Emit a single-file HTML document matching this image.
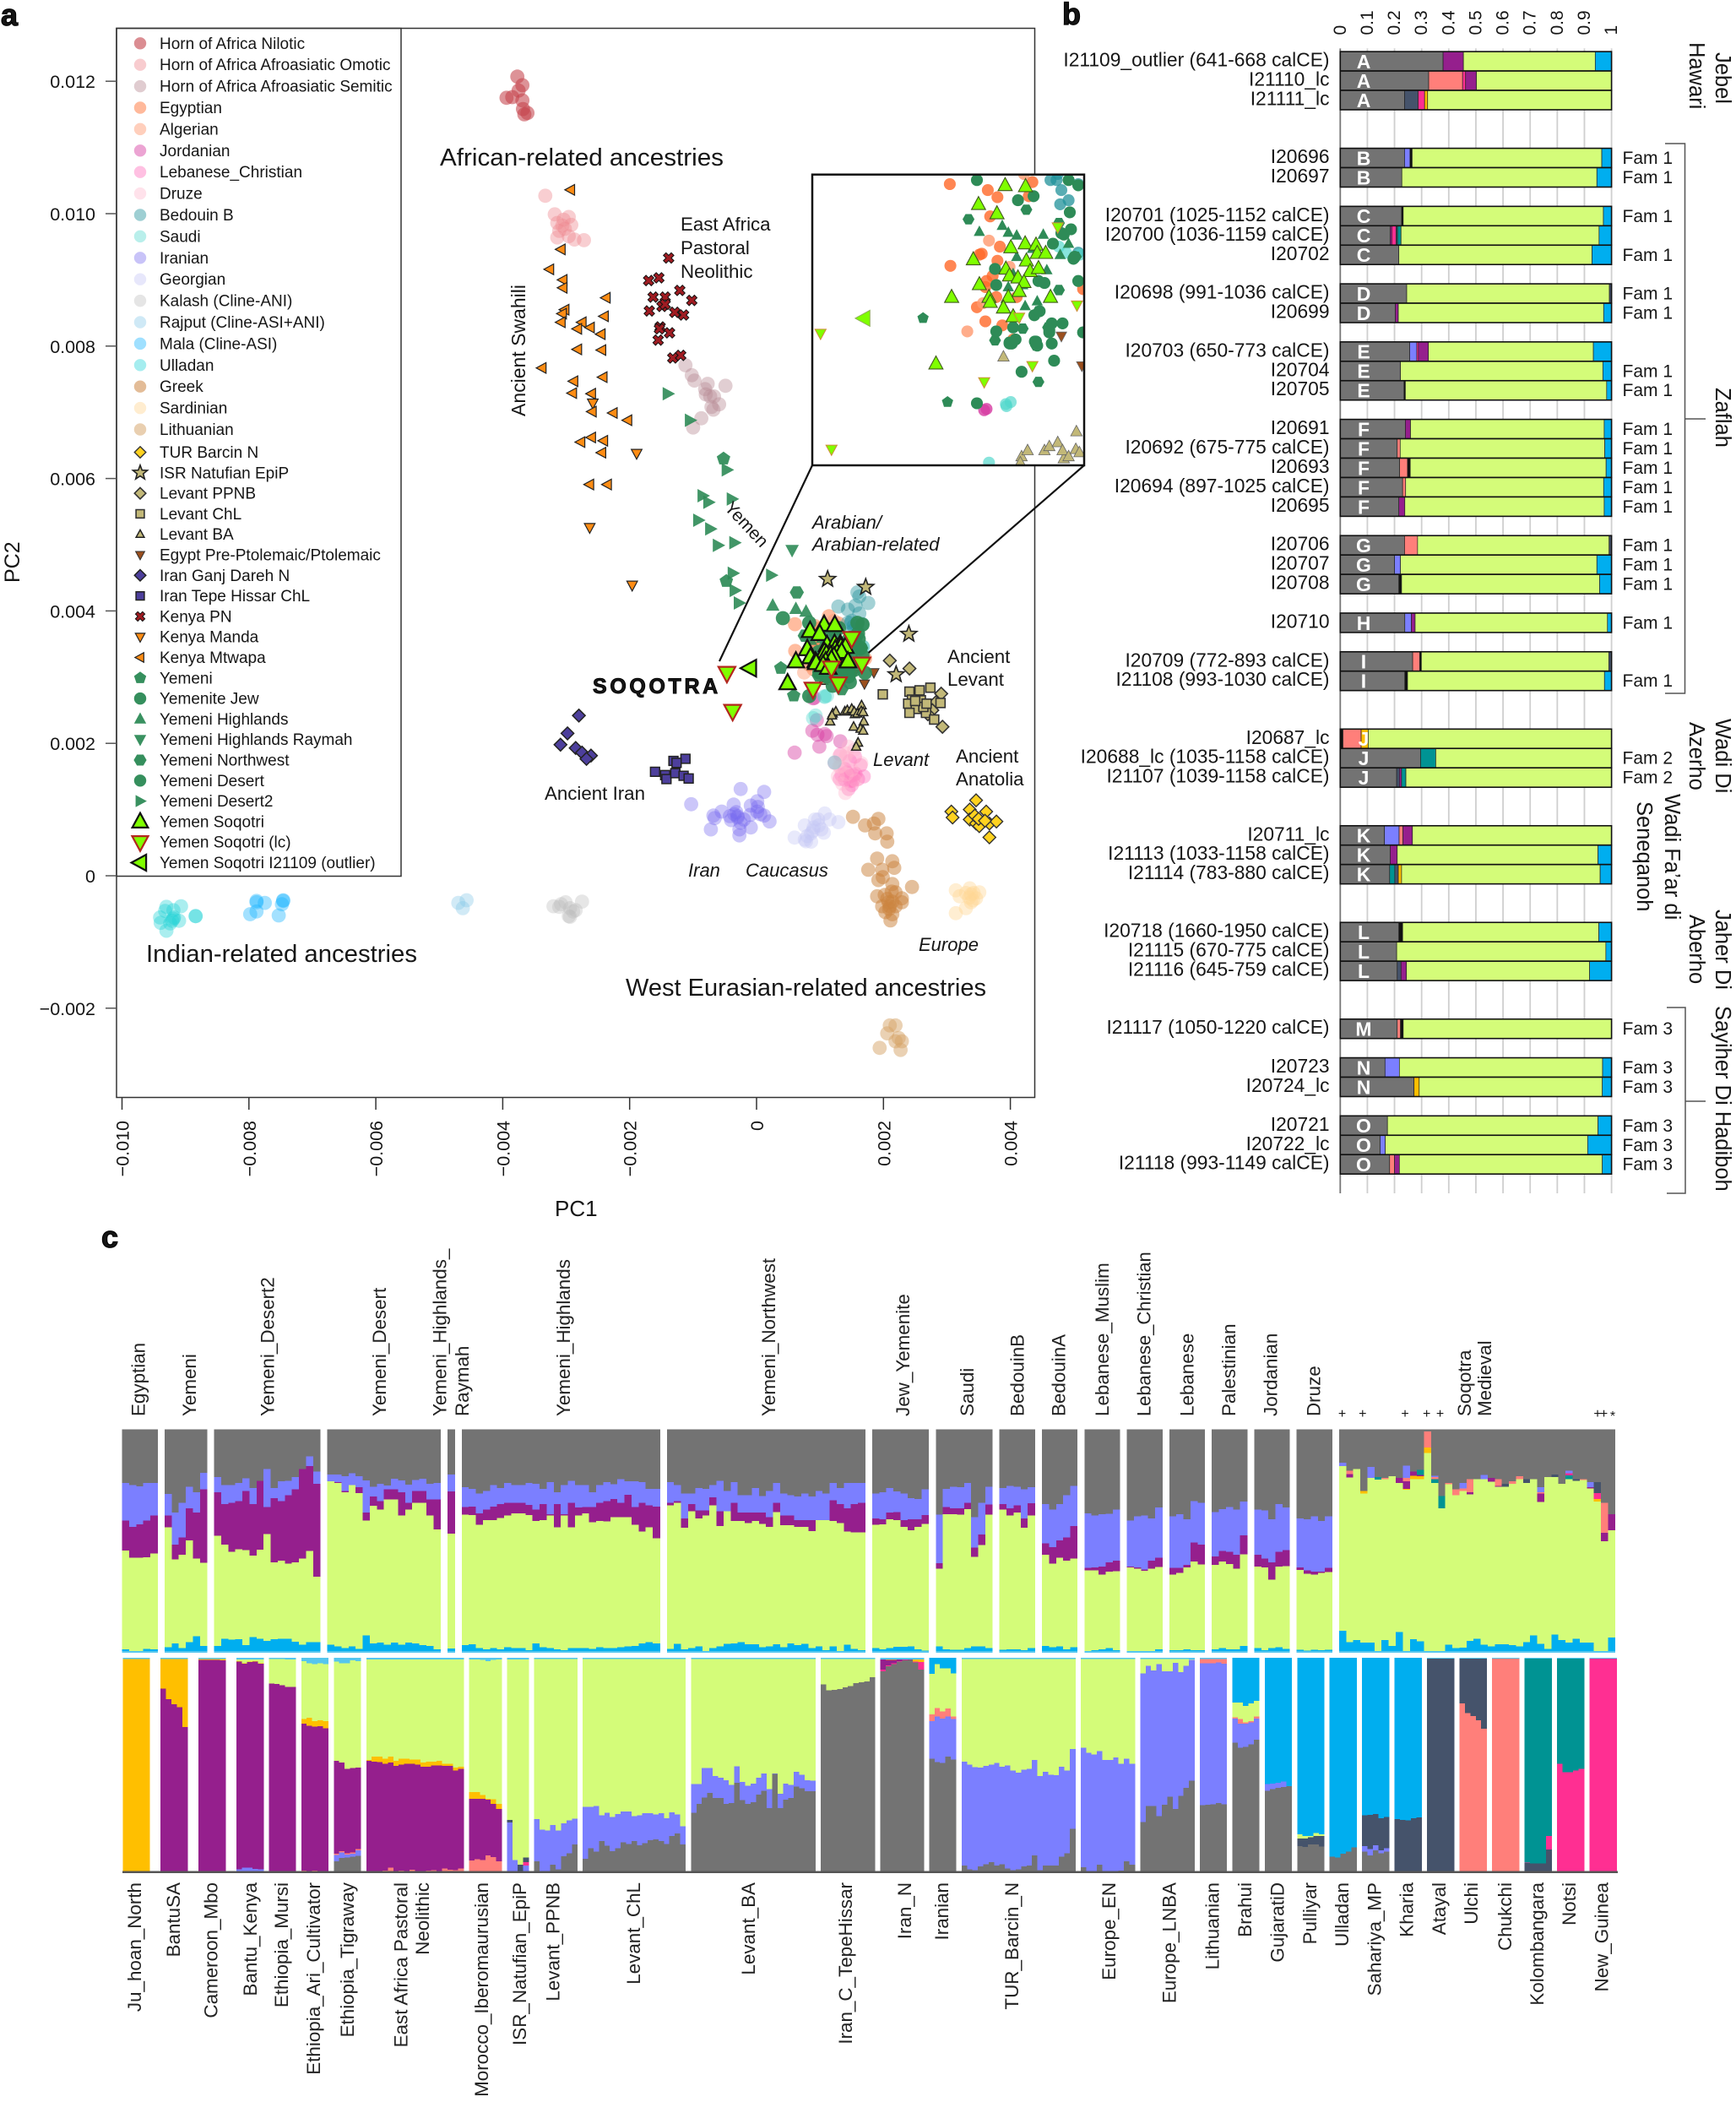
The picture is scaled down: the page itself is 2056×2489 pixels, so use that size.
<!DOCTYPE html>
<html lang="en">
<head>
<meta charset="utf-8">
<title>Soqotra ancestry figure</title>
<style>
html,body{margin:0;padding:0;background:#fff}
svg{display:block}
text{font-family:"Liberation Sans",sans-serif;fill:#161616}
.lab-a{font-size:22.3px}
.ital{font-size:22px;font-style:italic}
.big{font-size:29px}
.site{font-size:25.5px}
.clab{font-size:22.4px;fill:#222}
.tick{font-size:21.5px}
.panel{font-size:36px;font-weight:700;stroke:#000;stroke-width:1.2px}
</style>
</head>
<body>
<svg id="fig" xmlns="http://www.w3.org/2000/svg" width="2056" height="2489" viewBox="0 0 2056 2489">
<defs><clipPath id="inset-clip"><rect x="962" y="206.7" width="322" height="344.3"/></clipPath></defs>
<rect x="0" y="0" width="2056" height="2489" fill="#fff"/>

<text class="panel" x="1" y="30">a</text>
<text class="panel" x="1258" y="29">b</text>
<text class="panel" x="120" y="1477">c</text>

<g id="panel-a">
  <rect x="138" y="33.5" width="1087.5" height="1266" fill="none" stroke="#333" stroke-width="1.5"/>
  <rect x="138" y="33.5" width="337" height="1004" fill="none" stroke="#333" stroke-width="1.5"/>
  <g id="a-axes"></g>
  <g id="a-legend"></g>
  <g id="a-points"></g>
  <rect x="962" y="206.7" width="322" height="344.3" fill="#fff"/>
  <g id="a-inset" clip-path="url(#inset-clip)"></g>
  <rect x="962" y="206.7" width="322" height="344.3" fill="none" stroke="#111" stroke-width="2.5"/>
  <line x1="962" y1="551" x2="852" y2="783" stroke="#111" stroke-width="2.2"/>
  <line x1="1284" y1="551" x2="1028.6" y2="773" stroke="#111" stroke-width="2.2"/>

  <text transform="translate(23,690) rotate(-90)" style="font-size:25px">PC2</text>
  <text x="657" y="1440" style="font-size:26px">PC1</text>

  <text class="big" x="521" y="196" textLength="336" lengthAdjust="spacingAndGlyphs">African-related ancestries</text>
  <text class="big" x="173" y="1139" textLength="321" lengthAdjust="spacingAndGlyphs">Indian-related ancestries</text>
  <text class="big" x="741" y="1179" textLength="427" lengthAdjust="spacingAndGlyphs">West Eurasian-related ancestries</text>
  <text class="lab-a" transform="translate(622,493) rotate(-90)" style="font-size:23px">Ancient Swahili</text>
  <text class="lab-a" x="806" y="273">East Africa</text>
  <text class="lab-a" x="806" y="301">Pastoral</text>
  <text class="lab-a" x="806" y="329">Neolithic</text>
  <text class="lab-a" transform="translate(857,602) rotate(47)" style="font-size:21px">Yemen</text>
  <text class="ital" x="962" y="626">Arabian/</text>
  <text class="ital" x="962" y="652">Arabian-related</text>
  <text x="702" y="821" style="font-size:25px;font-weight:700;letter-spacing:3.8px;stroke:#000;stroke-width:.9px" textLength="152">SOQOTRA</text>
  <text class="lab-a" x="1122" y="785">Ancient</text>
  <text class="lab-a" x="1122" y="812">Levant</text>
  <text class="lab-a" x="1132" y="903">Ancient</text>
  <text class="lab-a" x="1132" y="930">Anatolia</text>
  <text class="ital" x="1034" y="907">Levant</text>
  <text class="lab-a" x="645" y="947">Ancient Iran</text>
  <text class="ital" x="815" y="1038">Iran</text>
  <text class="ital" x="883" y="1038">Caucasus</text>
  <text class="ital" x="1088" y="1126">Europe</text>
</g>

<g id="panel-b">
  <g id="b-grid"></g>
  <g id="b-bars"></g>
  <path d="M1972 170H1995.5V821H1972M1995.5 496H2020" fill="none" stroke="#555" stroke-width="1.5"/>
  <path d="M1974 1193H1996V1413H1974M1996 1304H2020" fill="none" stroke="#555" stroke-width="1.5"/>
  <text class="site" transform="translate(2032,62) rotate(90)">Jebel</text>
  <text class="site" transform="translate(2001,50) rotate(90)">Hawari</text>
  <text class="site" transform="translate(2032,459) rotate(90)">Zaflah</text>
  <text class="site" transform="translate(2032,851) rotate(90)">Wadi Di</text>
  <text class="site" transform="translate(2001,855) rotate(90)">Azerho</text>
  <text class="site" transform="translate(1972,940) rotate(90)">Wadi Fa’ar di</text>
  <text class="site" transform="translate(1939,949) rotate(90)">Seneqanoh</text>
  <text class="site" transform="translate(2032,1077) rotate(90)">Jaher Di</text>
  <text class="site" transform="translate(2001,1083) rotate(90)">Aberho</text>
  <text class="site" transform="translate(2032,1191) rotate(90)">Sayiher Di Hadiboh</text>
</g>

<g id="panel-c">
  <g id="c-upper"></g>
  <g id="c-lower"></g>
  <rect x="145" y="2215.5" width="1771" height="2.5" fill="#555"/>

  <g>
  <text class="clab" transform="translate(171.4,1677) rotate(-90)">Egyptian</text>
  <text class="clab" transform="translate(232,1677) rotate(-90)">Yemeni</text>
  <text class="clab" transform="translate(324.5,1677) rotate(-90)">Yemeni_Desert2</text>
  <text class="clab" transform="translate(457,1677) rotate(-90)">Yemeni_Desert</text>
  <text class="clab" transform="translate(528.6,1677) rotate(-90)">Yemeni_Highlands_</text>
  <text class="clab" transform="translate(555,1677) rotate(-90)">Raymah</text>
  <text class="clab" transform="translate(675,1677) rotate(-90)">Yemeni_Highlands</text>
  <text class="clab" transform="translate(918,1677) rotate(-90)">Yemeni_Northwest</text>
  <text class="clab" transform="translate(1077,1677) rotate(-90)">Jew_Yemenite</text>
  <text class="clab" transform="translate(1153,1677) rotate(-90)">Saudi</text>
  <text class="clab" transform="translate(1212.6,1677) rotate(-90)">BedouinB</text>
  <text class="clab" transform="translate(1261.7,1677) rotate(-90)">BedouinA</text>
  <text class="clab" transform="translate(1312.8,1677) rotate(-90)">Lebanese_Muslim</text>
  <text class="clab" transform="translate(1362.5,1677) rotate(-90)" style="font-size:21.9px">Lebanese_Christian</text>
  <text class="clab" transform="translate(1413.5,1677) rotate(-90)">Lebanese</text>
  <text class="clab" transform="translate(1463,1677) rotate(-90)">Palestinian</text>
  <text class="clab" transform="translate(1512.4,1677) rotate(-90)">Jordanian</text>
  <text class="clab" transform="translate(1563.4,1677) rotate(-90)">Druze</text>
  <text class="clab" transform="translate(1742,1677) rotate(-90)">Soqotra</text>
  <text class="clab" transform="translate(1766,1677) rotate(-90)">Medieval</text>
  <text x="1589.5" y="1679" text-anchor="middle" style="font-size:16px">+</text>
  <text x="1613.8" y="1679" text-anchor="middle" style="font-size:16px">+</text>
  <text x="1664" y="1679" text-anchor="middle" style="font-size:16px">+</text>
  <text x="1689.7" y="1679" text-anchor="middle" style="font-size:16px">+</text>
  <text x="1705.6" y="1679" text-anchor="middle" style="font-size:16px">+</text>
  <text x="1892" y="1679" text-anchor="middle" style="font-size:16px">+</text>
  <text x="1899.5" y="1679" text-anchor="middle" style="font-size:16px">+</text>
  <text x="1910" y="1682" text-anchor="middle" style="font-size:16px">*</text>
  </g>

  <g>
  <text class="clab" text-anchor="end" transform="translate(167,2229) rotate(-90)">Ju_hoan_North</text>
  <text class="clab" text-anchor="end" transform="translate(212.9,2229) rotate(-90)">BantuSA</text>
  <text class="clab" text-anchor="end" transform="translate(257.5,2229) rotate(-90)">Cameroon_Mbo</text>
  <text class="clab" text-anchor="end" transform="translate(304,2229) rotate(-90)">Bantu_Kenya</text>
  <text class="clab" text-anchor="end" transform="translate(341,2229) rotate(-90)">Ethiopia_Mursi</text>
  <text class="clab" text-anchor="end" transform="translate(379,2229) rotate(-90)">Ethiopia_Ari_Cultivator</text>
  <text class="clab" text-anchor="end" transform="translate(419,2229) rotate(-90)">Ethiopia_Tigraway</text>
  <text class="clab" text-anchor="end" transform="translate(482.7,2229) rotate(-90)">East Africa Pastoral</text>
  <text class="clab" text-anchor="end" transform="translate(508,2229) rotate(-90)">Neolithic</text>
  <text class="clab" text-anchor="end" transform="translate(578,2229) rotate(-90)">Morocco_Iberomaurusian</text>
  <text class="clab" text-anchor="end" transform="translate(623,2229) rotate(-90)">ISR_Natufian_EpiP</text>
  <text class="clab" text-anchor="end" transform="translate(662.5,2229) rotate(-90)">Levant_PPNB</text>
  <text class="clab" text-anchor="end" transform="translate(758,2229) rotate(-90)">Levant_ChL</text>
  <text class="clab" text-anchor="end" transform="translate(894,2229) rotate(-90)">Levant_BA</text>
  <text class="clab" text-anchor="end" transform="translate(1008.8,2229) rotate(-90)">Iran_C_TepeHissar</text>
  <text class="clab" text-anchor="end" transform="translate(1079,2229) rotate(-90)">Iran_N</text>
  <text class="clab" text-anchor="end" transform="translate(1123,2229) rotate(-90)">Iranian</text>
  <text class="clab" text-anchor="end" transform="translate(1206,2229) rotate(-90)">TUR_Barcin_N</text>
  <text class="clab" text-anchor="end" transform="translate(1321,2229) rotate(-90)">Europe_EN</text>
  <text class="clab" text-anchor="end" transform="translate(1392.5,2229) rotate(-90)">Europe_LNBA</text>
  <text class="clab" text-anchor="end" transform="translate(1443.5,2229) rotate(-90)">Lithuanian</text>
  <text class="clab" text-anchor="end" transform="translate(1481.8,2229) rotate(-90)">Brahui</text>
  <text class="clab" text-anchor="end" transform="translate(1520.7,2229) rotate(-90)">GujaratiD</text>
  <text class="clab" text-anchor="end" transform="translate(1559,2229) rotate(-90)">Pulliyar</text>
  <text class="clab" text-anchor="end" transform="translate(1597,2229) rotate(-90)">Ulladan</text>
  <text class="clab" text-anchor="end" transform="translate(1635.5,2229) rotate(-90)">Sahariya_MP</text>
  <text class="clab" text-anchor="end" transform="translate(1673.7,2229) rotate(-90)">Kharia</text>
  <text class="clab" text-anchor="end" transform="translate(1712,2229) rotate(-90)">Atayal</text>
  <text class="clab" text-anchor="end" transform="translate(1750,2229) rotate(-90)">Ulchi</text>
  <text class="clab" text-anchor="end" transform="translate(1790,2229) rotate(-90)">Chukchi</text>
  <text class="clab" text-anchor="end" transform="translate(1828,2229) rotate(-90)">Kolombangara</text>
  <text class="clab" text-anchor="end" transform="translate(1866,2229) rotate(-90)">Notsi</text>
  <text class="clab" text-anchor="end" transform="translate(1904.5,2229) rotate(-90)">New_Guinea</text>
  </g>
</g>
</svg>

<script>
/* ---------- PANEL A DATA: [PC1, PC2] in units of 0.0001 ---------- */
const pcXTicks=[-100,-80,-60,-40,-20,0,20,40];
const pcXLabels=['−0.010','−0.008','−0.006','−0.004','−0.002','0','0.002','0.004'];
const pcYTicks=[120,100,80,60,40,20,0,-20];
const pcYLabels=['0.012','0.010','0.008','0.006','0.004','0.002','0','−0.002'];

const hornNilotic=[[-37.7,120.7],[-36.9,119.4],[-37.5,118.6],[-39.4,117.5],[-38.5,117.6],[-36.9,117.1],[-36.8,115.8],[-36.1,115.2],[-36.6,115]];
const hornOmotic=[[-33.3,102.7],[-31.8,99.9],[-29.6,99.5],[-30.4,99.1],[-29.2,98.3],[-31.4,98.6],[-30.6,98.2],[-31.4,96.4],[-29.6,96.6],[-28.7,96.1],[-27.2,96],[-31.1,97.4],[-30.2,97.7]];
const hornSemitic=[[-11.2,77.1],[-10.2,75.6],[-9.8,74.8],[-7.7,74.3],[-8.1,73.5],[-4.9,74],[-6.7,72.4],[-8,72.7],[-7.3,72.4],[-5.9,71.2],[-7.1,70.8],[-6.8,70.4],[-8.7,69.1],[-10,67.7]];
const egyptian=[[6.05,38],[9.2,37.7],[10,37.35],[9.4,36.4],[10.2,34.9],[8.5,34.5],[8.7,34.55],[10,34.2],[6.1,33.95],[9.6,33.45],[9.1,33.2],[9,32.9],[9.9,32.4],[8.3,31.9],[9,31.2],[10.4,31],[11.6,32.4],[11.3,30.3],[12.9,38.1],[12.6,37.4],[17.1,32.8],[11.4,39.2]];
const algerian=[[9.3,35.2],[8.8,32.1],[11,33.9],[7.5,30.7],[12.2,38.5]];
const jordanian=[[6,18.6],[8.8,21.9],[9.6,21.3],[11.05,21.1],[9.5,23.5],[9.9,19.5],[13.2,20.3],[10.75,21.4],[8.9,26.8],[9.1,26.86]];
const lebaneseChristian=[[13.2,18.3],[14.7,17.35],[12.3,17.05],[13.9,16.1],[13.4,15.2],[15.3,15.2],[16.9,15],[14.8,14.3],[16,14.6],[13.1,14.6],[14.5,13.1],[16.4,16.7],[15.5,18],[14.9,15.1],[15.6,15.4],[14.2,15.6],[14.7,15],[15.2,14.4],[15,13.7],[13.9,14.5]];
const druze=[[14,17.9],[15,16],[13.5,13.9],[15.6,14.4],[14.2,15.3],[13,16.5],[15.4,19],[13,18],[14.5,19.5],[12.8,15],[14,12.5],[16.5,17],[13.2,16.5],[14.2,18.5]];
const bedouinB=[[12.9,40.66],[14.4,40.2],[16.2,42.2],[15.6,40.8],[17.6,41.2],[16.2,39.6],[15,38.5],[14.4,38.2],[15.9,42.8],[14.9,38.2],[15.3,37.7],[16.7,38],[15.9,37.2],[15.2,37],[16.7,34.6]];
const saudi=[[8.9,23.8],[12.3,17.1],[10.75,27],[11.1,27.2],[15.1,34.9],[15.7,34.6],[9.3,24.2],[16.8,34.5],[10.7,27.1]];
const iranian=[[-2.5,13.1],[1.2,12.66],[-10.3,10.8],[-3.6,10.75],[0.1,11.25],[-5.5,9.7],[-6.8,9.1],[0.1,9.7],[-3,8.8],[-2,8.5],[1.2,9.1],[2.05,8.2],[-6.6,8.7],[-0.9,10.6],[-7.2,7],[-2.7,7],[-0.9,7.3],[-2.7,6.1],[-4.2,9],[-3.2,9.6],[-1,9.2],[-3.5,9.3],[-3,9],[-4,8.4],[-2.5,8],[0.2,10.4],[0.6,9.3]];
const georgian=[[6,5.76],[7.6,7.6],[8.6,6.4],[9.7,8.5],[10.75,9.4],[12.9,8.1],[10.2,7],[8.6,5.15],[7.6,5.45],[9,7.3],[11.5,8.5],[8,6],[9.2,8.5],[9.8,7.6],[8.9,6.8],[7.8,5.2],[10.6,6.5]];
const kalash=[[-32,-4.6],[-31.1,-4.7],[-30.1,-4],[-27.5,-3.9],[-29.4,-4.9],[-28.5,-5.2],[-29.6,-6.1],[-29.4,-6.2],[-28.9,-5.4],[-30.8,-4.3]];
const rajput=[[-47,-4.1],[-45.7,-3.7],[-46.3,-4.9]];
const mala=[[-78.8,-3.8],[-78.8,-4],[-77.5,-4.1],[-79.8,-5.8],[-78.8,-5.4],[-75.3,-6],[-74.6,-3.8],[-74.6,-3.7],[-74.8,-4.3]];
const ulladan=[[-93,-4.7],[-90.7,-4.6],[-93.2,-5.3],[-91.9,-5.2],[-94,-6.3],[-91.9,-6.5],[-91,-6.8],[-93.9,-7.1],[-92.4,-7.2],[-93,-8.3],[-88.4,-6.1],[-88.4,-6.1],[-91.8,-6.3],[-92.1,-6.8]];
const greek=[[15.2,8.9],[19.2,8.6],[17.1,7.6],[18.5,7.9],[18.7,6.4],[20.5,6.4],[20.6,5.15],[19,2.6],[17.6,0.9],[21.4,2.2],[21.7,1.2],[19.8,0.9],[19.2,-0.65],[21.4,-1.25],[24.5,-1.7],[19,-3.1],[21.9,-2.5],[22.9,-3.4],[19.8,-4.6],[21.9,-4.6],[22.9,-4],[21.4,-5.8],[20.3,-5.5],[21.1,-6.75],[20.8,-4],[20.6,-3.5],[21.4,-3.9],[21,-4.6],[20.2,-2.9],[21.3,-2.4],[19.9,-0.2],[20.9,-5]];
const sardinian=[[31.4,-2.2],[33.6,-1.9],[35.1,-2.5],[32,-3.1],[34.1,-3.7],[33,-4.9],[31.4,-5.65],[34.6,-3.4],[33.8,-2.8],[33.5,-3.3],[34.2,-2.6],[33,-2.6],[33.8,-4]];
const lithuanian=[[21,-22.6],[21.9,-22.6],[20.6,-23.8],[22.4,-24.5],[21.9,-25],[22.9,-25],[19.4,-26],[22.7,-26.3]];
const turBarcin=[[30.7,9.7],[30.9,8.8],[34.6,11.4],[33.6,10],[36.2,9.7],[33.6,8.5],[34.6,7.9],[36.7,7.9],[37.8,8.2],[36.7,5.8],[34.4,9.1],[35.1,7.5],[35,8.6],[36,8.3]];
const natufian=[[11.2,44.8],[17.2,43.6],[24,36.5],[22,30.4]];
const levantPPNB=[[21,32.5],[24.1,31.3],[29.1,27.5],[28.25,26.2],[27.7,25],[29.3,22.5],[27,24.4]];
const levantChL=[[19.9,27.4],[24.1,27.8],[25.7,28],[27.4,28.4],[24.5,26.6],[25.9,26.5],[23.9,26],[25.1,25.2],[24.1,24.6],[26.7,24.6],[28,23.6],[26.3,25.5],[25,26.4],[26.8,26],[29,26.1]];
const levantBA=[[12,24.5],[11.6,23.3],[13.9,24.8],[15.5,24.4],[16.9,23.3],[15.3,22.5],[16.4,22.2],[16.8,21.9],[16,20.1],[15.7,19.5],[16.55,25.74],[12.5,24.8],[14.3,25],[15,25.2],[15.4,24.8],[15.9,24.5],[16.5,24.86],[16.8,24.7],[10.5,29.44],[11.9,24.2]];
const egyptPtolemaic=[[15.3,30.47],[17,29],[18.5,30.7]];
const iranGanjDareh=[[-28,24.2],[-29.8,21.5],[-30.9,19.8],[-28.5,19.3],[-27.5,18.6],[-26.1,18.15],[-26.8,17.65]];
const iranTepeHissar=[[-11.2,17.66],[-13.1,17.35],[-12.6,17.05],[-16,15.7],[-14.4,15.2],[-14.2,14.6],[-12.8,15.5],[-11.5,15.1],[-10.7,14.7]];
const kenyaPN=[[-13.85,93.3],[-17,89.9],[-15.4,90.3],[-16.3,87.4],[-14.4,87.4],[-12.1,88.4],[-10.2,86.9],[-16.9,85.3],[-14.9,86],[-14.4,86.3],[-12.9,85.1],[-11.5,84.7],[-15.2,82.9],[-15.3,82.6],[-13.7,82],[-15.5,80.9],[-13.2,78.2],[-11.95,78.6]];
const kenyaManda=[[-25.8,71.4],[-18.9,63.8],[-26.3,52.6],[-19.6,43.9]];
const kenyaMtwapa=[[-29.3,103.6],[-30.8,94.6],[-32.6,91.6],[-30.5,90],[-30.5,88.8],[-23.7,87.3],[-30.2,85.5],[-30.6,84.9],[-30.8,83.6],[-24,84.5],[-27.5,83.6],[-28.2,82.6],[-26.2,82.8],[-24.5,81.8],[-28.2,79.5],[-24.4,79.4],[-33.8,76.7],[-28.8,74.7],[-24.2,75.3],[-29,72.9],[-26,72.8],[-25.9,70.1],[-22.6,69.9],[-20.3,68.8],[-26,66.2],[-27.7,65.5],[-24.1,65.7],[-24.4,63.9],[-26.3,59.1],[-23.5,59.1]];
const yemeni=[[-5.2,63],[-4.76,44.5],[3.83,31.36],[5.86,27.2]];
const yemeniteJew=[[8.3,38.2],[11.7,37.2],[13,37.4],[16,36.6],[16.1,35.76],[14.6,35.05],[15.5,35.5],[16.3,34.3],[9.8,33.8],[9.9,33],[13.9,33.1],[16.7,33.2],[14.5,31.1],[15.4,31.1],[14.3,30.65],[11,30.15],[13.1,30.2],[14.5,30.1],[14.7,29.25],[12,28.7],[8.3,27.14],[17.1,30.65],[16.7,37.94],[11.5,30.3],[4.15,38.9],[15.9,38.2]];
const yemeniHighlands=[[8.5,35.64],[10.4,35.94],[10.9,35.6],[11.6,35.46],[13.8,35.5],[11.6,34.4],[15.9,35.05],[14.1,33.74],[11.3,33.55],[12.3,31.96],[13.3,32.2],[15.2,34.5],[12.1,33],[10.9,32.9],[12.9,34.8],[2.55,40.8],[6.2,40.3],[7.8,39.9]];
const yemeniRaymah=[[5.6,49.2]];
const yemeniNorthwest=[[7.6,36.26],[12.4,36.73],[15.1,32.75],[16.5,34.4],[9.9,30.7],[9.8,30.26],[12.1,30.84],[13.2,30],[13.4,31.7],[13.05,31.5],[14.2,30.9],[13.4,28.2],[15.1,36.07],[6.35,42.8]];
const yemeniDesert=[[13.4,33.2],[16.4,34.4],[14.3,30.76],[13.2,30.2],[13.3,30],[11,30.1],[11.2,30.1],[11.5,30.3],[9.9,30.7],[11.3,30.9],[13.06,31.5],[13.5,31.7],[15.3,35.57]];
const yemeniDesert2=[[-14,72.8],[-10.5,68.8],[-4.7,61.3],[-8.5,57.4],[-7.6,56.4],[-3.9,56.9],[-9.2,53.7],[-7.3,52.4],[-3.5,50.3],[-6.1,49.9],[-3.75,45.7],[2.3,45.4],[-3.45,43.1],[-2.8,41.2]];
const soqotri=[[10.64,37.94],[12.33,37.89],[8.43,37],[9.96,36.54],[11.11,34.86],[12.3,35.05],[13.2,34.99],[13.3,34.58],[14,34.58],[8,34.26],[12.4,34.2],[10.7,33.8],[12.7,33.68],[13.4,33.83],[11,33.46],[11.7,33.36],[12.2,33.14],[8.5,33.03],[6.2,32.4],[10.9,32.4],[11.8,32.69],[9.3,32.4],[9.4,32.15],[10.5,31.87],[11.3,31.44],[14.4,32.4],[4.9,29.1]];
const soqotriLC=[[-4.67,30.6],[-3.76,24.86],[8.9,28.2],[12.9,29],[15,35.87],[16.6,32],[11.8,31.4]];
const soqotriOutlier=[[-1.07,31.35]];

const legendLabels=['Horn of Africa Nilotic','Horn of Africa Afroasiatic Omotic','Horn of Africa Afroasiatic Semitic','Egyptian','Algerian','Jordanian','Lebanese_Christian','Druze','Bedouin B','Saudi','Iranian','Georgian','Kalash (Cline-ANI)','Rajput (Cline-ASI+ANI)','Mala (Cline-ASI)','Ulladan','Greek','Sardinian','Lithuanian','TUR Barcin N','ISR Natufian EpiP','Levant PPNB','Levant ChL','Levant BA','Egypt Pre-Ptolemaic/Ptolemaic','Iran Ganj Dareh N','Iran Tepe Hissar ChL','Kenya PN','Kenya Manda','Kenya Mtwapa','Yemeni','Yemenite Jew','Yemeni Highlands','Yemeni Highlands Raymah','Yemeni Northwest','Yemeni Desert','Yemeni Desert2','Yemen Soqotri','Yemen Soqotri (lc)','Yemen Soqotri I21109 (outlier)'];
const legendSeries=[hornNilotic,hornOmotic,hornSemitic,egyptian,algerian,jordanian,lebaneseChristian,druze,bedouinB,saudi,iranian,georgian,kalash,rajput,mala,ulladan,greek,sardinian,lithuanian,turBarcin,natufian,levantPPNB,levantChL,levantBA,egyptPtolemaic,iranGanjDareh,iranTepeHissar,kenyaPN,kenyaManda,kenyaMtwapa,yemeni,yemeniteJew,yemeniHighlands,yemeniRaymah,yemeniNorthwest,yemeniDesert,yemeniDesert2,soqotri,soqotriLC,soqotriOutlier];
const G='#2e8b57', KH='#c2b878';
const CR=8.4;
const seriesStyle=[
{s:'circle',r:CR,f:'#c4434c',a:.58},{s:'circle',r:CR,f:'#ee8a92',a:.42},{s:'circle',r:CR,f:'#b88b93',a:.42},
{s:'circle',r:CR,f:'#ff6a2b',a:.45},{s:'circle',r:CR,f:'#ff9a70',a:.45},{s:'circle',r:CR,f:'#d63ea2',a:.45},
{s:'circle',r:CR,f:'#ff6fbc',a:.42},{s:'circle',r:CR,f:'#ffb6cc',a:.38},{s:'circle',r:CR,f:'#23929a',a:.42},
{s:'circle',r:CR,f:'#50d8cc',a:.38},{s:'circle',r:CR,f:'#7569ee',a:.38},{s:'circle',r:CR,f:'#c2c4f4',a:.38},
{s:'circle',r:CR,f:'#bdbdbd',a:.38},{s:'circle',r:CR,f:'#86c8e8',a:.38},{s:'circle',r:CR,f:'#1ab4ff',a:.4},
{s:'circle',r:CR,f:'#1fd2d6',a:.38},{s:'circle',r:CR,f:'#cc8540',a:.52},{s:'circle',r:CR,f:'#ffd694',a:.42},
{s:'circle',r:CR,f:'#d6a468',a:.5},
{s:'diamond',r:7.5,f:'#ffd21f',st:'#333',sw:1.4},{s:'star',r:10,f:KH,st:'#222',sw:1.6},{s:'diamond',r:7.5,f:KH,st:'#333',sw:1.6},
{s:'square',r:5.4,f:KH,st:'#333',sw:1.6},{s:'triUp',r:5.4,f:KH,st:'#222',sw:1.5},{s:'triDown',r:6,f:'#9b4f1e',st:'#333',sw:1},
{s:'diamond',r:7.5,f:'#4d3f9c',st:'#222',sw:1.5},{s:'square',r:5.4,f:'#4d3f9c',st:'#222',sw:1.5},{s:'cross',r:6.2,f:'#a01c22',st:'#111',sw:1},
{s:'triDown',r:6.3,f:'#ff8c14',st:'#222',sw:1.2},{s:'triLeft',r:6.3,f:'#ff8c14',st:'#222',sw:1.2},
{s:'pentagon',r:CR,f:G,a:.92},{s:'circle',r:CR,f:G,a:.92},{s:'triUp',r:8,f:G,a:.9},{s:'triDown',r:8,f:G,a:.9},{s:'hexagon',r:CR,f:G,a:.92},{s:'circle',r:CR,f:G,a:.92},{s:'triRight',r:8,f:G,a:.9},
{s:'triUp',r:9.8,f:'#7fff00',st:'#111',sw:2.2},{s:'triDown',r:10,f:'#7fff00',st:'#b3261e',sw:2.2},{s:'triLeft',r:10,f:'#7fff00',st:'#111',sw:2.2}
];

/* ---------- PANEL B DATA ---------- */
const bTicks=[0,.1,.2,.3,.4,.5,.6,.7,.8,.9,1];
const bTickLabels=['0','0.1','0.2','0.3','0.4','0.5','0.6','0.7','0.8','0.9','1'];
const bSamples=['I21109_outlier (641-668 calCE)','I21110_lc','I21111_lc','I20696','I20697','I20701 (1025-1152 calCE)','I20700 (1036-1159 calCE)','I20702','I20698 (991-1036 calCE)','I20699','I20703 (650-773 calCE)','I20704','I20705','I20691','I20692 (675-775 calCE)','I20693','I20694 (897-1025 calCE)','I20695','I20706','I20707','I20708','I20710','I20709 (772-893 calCE)','I21108 (993-1030 calCE)','I20687_lc','I20688_lc (1035-1158 calCE)','I21107 (1039-1158 calCE)','I20711_lc','I21113 (1033-1158 calCE)','I21114 (783-880 calCE)','I20718 (1660-1950 calCE)','I21115 (670-775 calCE)','I21116 (645-759 calCE)','I21117 (1050-1220 calCE)','I20723','I20724_lc','I20721','I20722_lc','I21118 (993-1149 calCE)'];
const bLetters=['A','A','A','B','B','C','C','C','D','D','E','E','E','F','F','F','F','F','G','G','G','H','I','I','J','J','J','K','K','K','L','L','L','M','N','N','O','O','O'];
const bSites=['JH','JH','JH','Z','Z','Z','Z','Z','Z','Z','Z','Z','Z','Z','Z','Z','Z','Z','Z','Z','Z','Z','Z','Z','AZ','AZ','AZ','SE','SE','SE','AB','AB','AB','HA','HA','HA','HA','HA','HA'];
const bFamilies=['','','','Fam 1','Fam 1','Fam 1','','Fam 1','Fam 1','Fam 1','','Fam 1','Fam 1','Fam 1','Fam 1','Fam 1','Fam 1','Fam 1','Fam 1','Fam 1','Fam 1','Fam 1','','Fam 1','','Fam 2','Fam 2','','','','','','','Fam 3','Fam 3','Fam 3','Fam 3','Fam 3','Fam 3'];
const bComponents=[
[['grey',.379],['purple',.075],['green',.486],['cyan',.06]],
[['grey',.326],['salmon',.125],['pink',.011],['purple',.04],['green',.498]],
[['grey',.237],['slate',.05],['pink',.024],['gold',.011],['green',.678]],
[['grey',.237],['blue',.02],['black',.008],['green',.699],['cyan',.036]],
[['grey',.227],['green',.719],['cyan',.054]],
[['grey',.226],['black',.006],['green',.738],['cyan',.03]],
[['grey',.184],['purple',.006],['pink',.016],['slate',.005],['teal',.013],['green',.73],['cyan',.046]],
[['grey',.216],['green',.712],['cyan',.072]],
[['grey',.245],['green',.747],['slate',.008]],
[['grey',.203],['purple',.011],['green',.757],['cyan',.029]],
[['grey',.256],['blue',.026],['pink',.006],['purple',.037],['green',.608],['cyan',.067]],
[['grey',.222],['green',.746],['cyan',.032]],
[['grey',.235],['black',.005],['green',.742],['cyan',.018]],
[['grey',.24],['purple',.019],['green',.714],['cyan',.027]],
[['grey',.21],['salmon',.011],['green',.754],['cyan',.025]],
[['grey',.219],['salmon',.029],['black',.01],['green',.722],['cyan',.02]],
[['grey',.23],['salmon',.011],['green',.73],['cyan',.029]],
[['grey',.216],['purple',.022],['green',.735],['cyan',.027]],
[['grey',.237],['salmon',.048],['green',.706],['slate',.009]],
[['grey',.2],['blue',.022],['green',.724],['cyan',.054]],
[['grey',.216],['black',.01],['green',.73],['cyan',.044]],
[['grey',.238],['blue',.024],['purple',.014],['green',.709],['cyan',.015]],
[['grey',.267],['salmon',.026],['black',.006],['green',.691],['slate',.01]],
[['grey',.238],['black',.01],['green',.726],['cyan',.026]],
[['black',.01],['salmon',.067],['gold',.026],['green',.897]],
[['grey',.296],['teal',.056],['green',.648]],
[['grey',.208],['slate',.01],['purple',.008],['teal',.016],['green',.758]],
[['grey',.163],['blue',.054],['salmon',.014],['purple',.035],['green',.734]],
[['grey',.184],['purple',.026],['green',.74],['cyan',.05]],
[['grey',.182],['teal',.019],['slate',.013],['gold',.012],['green',.732],['cyan',.042]],
[['grey',.216],['black',.014],['green',.723],['cyan',.047]],
[['grey',.208],['green',.771],['cyan',.021]],
[['grey',.21],['slate',.014],['purple',.02],['green',.675],['cyan',.081]],
[['grey',.21],['salmon',.012],['black',.01],['green',.768]],
[['grey',.165],['blue',.053],['green',.749],['cyan',.033]],
[['grey',.272],['gold',.019],['green',.675],['cyan',.034]],
[['grey',.174],['green',.776],['cyan',.05]],
[['grey',.147],['blue',.019],['green',.746],['cyan',.088]],
[['grey',.182],['salmon',.018],['purple',.018],['green',.748],['cyan',.034]]
];

/* ---------- PANEL C DATA: layers are cumulative % from the top of the column ---------- */
const upperKeys=['grey','blue','purple'];
const egyptianLayers=[[24,25,25.5,24,24],[41,43.7,42.6,41,38.7],[54.4,57.6,57.6,57.4,55.7]];
const egyptianCyan=[.7,0,0,1,.7];
const yemeniLayers=[[29,37.4,32.9,25.7,28.3,19.6],[38.7,51.8,48.5,35.5,37.4,27],[44,58.3,56.3,49.8,58,59.8]];
const yemeniCyan=[1.7,3.3,1.3,4,6.6,2.3];
const desert2Layers=[[21.4,25,25,24,22,26.4,23.1,17.9,26.4,23.4,23.1,21.4,17.9,12.1,18.9],[28.3,33.5,32.9,32.2,27.6,33.5,22,34.8,30.9,32.2,29.6,27,15.3,16.6,24.4],[47.8,51.8,55,53.8,54.2,56.7,54,47,59.6,59,60.2,59.6,58,54.6,66.1]];
const desert2Cyan=[2.3,5.5,5,5.2,2.6,6.3,5.5,4.6,5.2,5.5,5.5,4.2,2.9,3.9,3.9];
const desertLayers=[[20.3,20.3,21.1,19.8,21.1,23,25.7,24.4,25.3,22.2,23,24.8,22.7,22.2,24.4,24],[23.3,23.7,27.6,25,26,37.4,30.2,32.2,27,27,28.3,32.9,27.6,27.6,31.5,31.5],[23.4,24,28.3,25,28.7,41,34.3,36.1,31.5,31.5,38.7,36.1,33,33,38.7,44.9]];
const desertCyan=[2.9,2,1.3,2.1,1,7,3.3,3.7,2.9,3.7,2.9,3.7,3.3,2.6,2.3,.7];
const raymahLayers=[[20.2],[27.9],[46.8]];
const raymahCyan=[1.2];
const highlandsLayers=[[25.9,26.7,28.9,27.6,25,26.3,24.1,25,25,24.1,24.4,26.7,23.7,28.3,25,23.1,25,25,28.3,25,23.7,24.6,22.4,23.3,23.3,23.7,26.7,26.7],[34.8,34.6,37.7,36,34.6,33.5,32.9,32.9,32.9,33.9,36.1,33.5,38.1,33.5,38.1,32.9,35.1,34.8,34.8,32.9,32.2,31.3,32.9,29.3,34.8,32.9,34.2,34.6],[38.3,38.5,42.9,40.7,40.7,39.8,38.7,37.7,37.7,38.5,41.1,40.7,38.7,43.9,38.7,43.9,38.7,37.7,41.6,41.1,41.4,39.4,39.4,39.4,42.9,45.9,43.9,48.9]];
const highlandsCyan=[2.6,3,1.3,.7,1.3,.7,1.6,1.3,1.3,.3,3.4,1.6,1.3,.8,.3,1.3,1.3,1.3,1,1.6,1.3,1.3,1.7,2.1,2.3,3.3,3.9,3.3];
const northwestLayers=[[23.7,25,28.9,28.9,26.3,26.7,25,23.1,27.6,23.7,29.6,29.6,26.3,29.9,27.6,24.1,28.9,29.6,30.2,28.9,30.2,27.6,28.9,24.1,26.3,24.1,24.1,24.1],[32.9,32.2,40,33.5,36.4,36.4,30.6,36.8,36.8,32.9,37.4,37.4,37.4,37.4,39.4,32.9,38.7,38.7,40.7,40.7,40.7,40.7,40.7,31.9,33.5,35.5,33.5,32.9],[34.2,32.9,44.2,36.8,40,38.7,34.2,43.3,36.8,41.1,41.1,42.1,41.1,42.4,43.7,37.2,43,43,43.7,43.7,45.7,36.8,38.7,41.1,42,45.9,46.3,46.3]];
const northwestCyan=[1,3.1,.7,1.3,2,0,1.3,2,3.1,3.3,3.9,3,3,1.6,2.1,3,1.6,3.4,2.6,3.1,1.3,2.1,.3,2,0,2.9,1,.3];
const jewLayers=[[28.9,28.3,26.3,27.9,28.9,30.9,31.3,27],[40,40.3,37.4,37.1,40.7,40.3,40.3,38.5],[42.9,42.6,40.3,40.7,43.7,45.2,43.7,42.4]];
const jewCyan=[1.3,.8,1.3,1.8,1.8,2.1,.7,.1];
const saudiLayers=[[38.3,26.7,25.7,26,24.1,39.4,32.9,25.7],[60,34.8,35.5,35.5,32.9,53.1,47.2,33.8],[62.6,38.1,38.1,38.3,35.9,57.2,52,38.3]];
const saudiCyan=[2,.8,.5,.5,1.3,2,2,1.3];
const bedouinBLayers=[[26.3,25.4,25.7,27,25.9],[33.5,35.5,34.2,40,33.2],[36.1,38.7,37.4,44.2,38.7]];
const bedouinBCyan=[.5,.8,.8,.4,1.3];
const bedouinALayers=[[33.5,36.1,33.5,29.6,25.4],[51.1,52.8,49.8,48.5,43.3],[56.3,60.2,57.6,58.9,58]];
const bedouinACyan=[2.3,1.6,2,.7,1.7];
const muslimLayers=[[37.7,38.7,38.1,37.9,36.1],[62.2,61.9,61.5,59.6,58.9],[63.2,63.2,65.2,63.8,63.6]];
const muslimCyan=[0,.3,.7,1.3,.4];
const christianLayers=[[40.9,39.1,38.7,40,35.1],[61.5,61.9,62.8,58.9,57.6],[61.9,62.6,63.5,62.5,61.8]];
const christianCyan=[0,0,0,0,.8];
const lebaneseLayers=[[39.1,38.1,40.3,32.2,32.9],[62.2,62.2,60.9,50.7,51.8],[65.2,64.5,61.9,59.3,60.6]];
const lebaneseCyan=[.4,.4,.7,.4,.4];
const palestinianLayers=[[37.2,35.9,34.8,36.1,32.5],[57,54.6,55,56.3,47.6],[60.9,59.3,60.4,62.5,56.1]];
const palestinianCyan=[.7,1.3,.7,.7,2.3];
const jordanianLayers=[[36.1,36.4,40.3,33.5,35.1],[56.3,58,59.6,55,54.1],[61.5,61.9,67.4,61.5,61.3]];
const jordanianCyan=[1.3,.4,1.3,1.6,1];
const druzeLayers=[[40,40.4,39.1,41.1,39],[61.9,63.2,63.8,63.8,62.2],[63,64.8,65.2,64.5,64.1]];
const druzeCyan=[.5,.1,.5,.3,.5];
const upperGroups=[[egyptianLayers,egyptianCyan],[yemeniLayers,yemeniCyan],[desert2Layers,desert2Cyan],[desertLayers,desertCyan],[raymahLayers,raymahCyan],[highlandsLayers,highlandsCyan],[northwestLayers,northwestCyan],[jewLayers,jewCyan],[saudiLayers,saudiCyan],[bedouinBLayers,bedouinBCyan],[bedouinALayers,bedouinACyan],[muslimLayers,muslimCyan],[christianLayers,christianCyan],[lebaneseLayers,lebaneseCyan],[palestinianLayers,palestinianCyan],[jordanianLayers,jordanianCyan],[druzeLayers,druzeCyan]];

const soqotraGrey=[15,18.5,17.9,27.6,16.8,21.4,21.8,21.1,21.8,16.3,18.9,18.3,.9,20.9,29.9,24.1,27,24.1,22.4,22.4,20.5,21.8,22.4,24.4,23.3,21.1,22.4,22.4,25.9,21.4,20.2,24.4,18.6,22.4,22.4,23.7,23.7,32.9,38.1];
const soqotraAccents=[[['blue',16.6]],[['salmon',20.1],['purple',21.6]],[],[['gold',28.9]],[['blue',21.8]],[['teal',22.6]],[['salmon',22.4]],[],[['purple',24.1]],[['blue',21.8],['salmon',23.3],['purple',26.7],['gold',27.1]],[['purple',20.9],['gold',22.4]],[['teal',20.5],['purple',21.1],['gold',22.4]],[['salmon',8.1],['gold',10.7]],[['blue',21.5],['salmon',22.4],['teal',24.1]],[['teal',35.5]],[['salmon',24.6]],[['salmon',29.6]],[['blue',26.5],['salmon',27.6]],[['salmon',28.3],['purple',29.2]],[],[['blue',22.4]],[['purple',23.5]],[['salmon',25.4],['purple',25.7]],[['slate',25.7]],[['salmon',24.4]],[['salmon',22.4]],[['slate',24]],[],[['blue',28.3],['salmon',28.9],['purple',32.6]],[],[['slate',21.4]],[],[['blue',19.8],['pink',20.7],['teal',22.4]],[['slate',23.1]],[['salmon',22.7]],[['blue',26],['purple',26.5]],[['slate',28.7],['pink',31.2],['gold',32.5]],[['salmon',46.5],['purple',50.2]],[['purple',45.2]]];
const soqotraCyan=[9.1,3.9,4.9,3.7,3.7,0,4.9,2.3,8.5,0,5.2,4.3,0,0,0,2.9,1.3,1.4,4.6,5.5,2.9,2.1,3,3,2.6,2.1,3.9,6.9,3.1,.9,7.4,4.9,3.7,5.5,3.7,3.7,0,0,6.1];

const juHoanStack=[['light',[.6,.6,.6,.6,.6]],['gold',[100,100,100,100,100]]];
const bantuSAStack=[['light',[.6,.6,.6,.6,.6]],['gold',[14.3,19.3,21.6,23.1,32.3]],['purple',[100,100,100,100,100]]];
const mboStack=[['light',[.5,.5,.5,.5,.5]],['gold',[.9,.9,1,1,1.1]],['purple',[100,100,100,100,100]]];
const kenyaStack=[['light',[.7,.7,.7,.7,.7]],['green',[1.5,2.5,1.8,1.5,2.5]],['gold',[1.8,2.8,2,1.8,2.8]],['purple',[98.8,98,98,98.6,98.9]],['blue',[100,100,100,100,100]]];
const mursiStack=[['light',[.6,.6,.6,.8,.8]],['green',[12.1,12.2,12.8,13.6,13.6]],['purple',[100,100,100,99.6,99.6]],['salmon',[100,100,100,100,100]]];
const ariStack=[['light',[1.5,2.5,3,2.5,3]],['green',[28.5,28.1,29.5,29.1,29.5]],['gold',[30.8,31.8,32.2,31.9,33]],['purple',[99.5,99.6,99.5,99.8,99.8]],['salmon',[100,100,100,100,100]]];
const tigrawayStack=[['light',[1.8,2.5,2.5,1.2,1.5]],['green',[48.2,48.9,51.9,51.5,51.2]],['purple',[91.6,90.4,91.3,91,89.3]],['salmon',[92.2,91,92,91.6,90]],['blue',[95,93.5,93.2,92.8,92.5]],['grey',[100,100,100,100,100]]];
const eastAfricaStack=[['light',[.7,.7,.7,.7,.7,.7,.7,.7,.7,.7,.7,.7,.7,.7,.7,.7,.7,.7]],['green',[47.8,46.2,46.2,47.1,46.2,48.1,47.1,47.1,47.6,47.6,48.9,48.5,48.5,48.1,49.6,49.6,51.2,50.9]],['gold',[48.2,48.5,48.8,49.5,48.9,50.5,49.9,49.6,49.6,49.9,50.8,50.8,50.3,50.3,50.4,50.5,52.6,51.8]],['purple',[100,99.8,99.7,99.5,98,99.6,99.5,99.8,99,99.7,99.8,99.5,99.2,99.8,98.5,99,99.2,98.5]],['salmon',[100,100,100,100,100,100,100,100,100,100,100,100,100,100,100,100,100,100]]];
const moroccoStack=[['light',[.8,.8,1,1.5,1,.8]],['green',[62.8,62.8,64.1,65.8,66,68.2]],['gold',[65.9,65.9,65.9,66.2,68.2,70.7]],['purple',[94.7,94,94.4,92.4,93,95]],['salmon',[100,100,100,100,100,100]]];
const isrStack=[['light',[.7,.7,.7,.7]],['green',[75.7,94.4,96.7,93.3]],['slate',[77,94.4,100,95.5]],['pink',[77,94.4,100,97]],['blue',[100,100,100,100]]];
const ppnbStack=[['light',[.6,.6,.6,.6,.6,.6,.6,.6]],['green',[75.4,80.2,80.7,78.1,80.7,77.4,76,75.1]],['blue',[95.1,100,100,96.7,98.8,92.7,91.3,87.2]],['grey',[100,100,100,100,100,100,100,100]]];
const chlStack=[['light',[.6,.6,.6,.6,.6,.6,.6,.6,.6,.6,.6,.6,.6,.6,.6,.6,.6,.6,.6]],['green',[69.6,69.6,69.3,73.6,72.3,74.3,73,71.8,71.8,74,73.6,72.5,72.6,73.2,72.6,74.9,72.1,73.2,78.7]],['blue',[93.8,88.9,90.6,85.6,87.7,90.4,88.9,86.1,87,85.6,87.6,86.5,85.2,84.8,85.6,87,83.2,82.1,87.2]],['grey',[100,100,100,100,100,100,100,100,100,100,100,100,100,100,100,100,100,100,100]]];
const baStack=[['light',[.6,.6,.6,.6,.6,.6,.6,.6,.6,.6,.6,.6,.6,.6,.6,.6,.6,.6,.6,.6,.6,.6,.6]],['green',[59,59,51.5,51.5,55.3,56,57.1,59.4,50.7,58,59.7,58.7,56,54,61.4,54,63.5,58.7,59.4,53.3,54.6,57.1,57.3]],['blue',[72.3,68.2,65.2,63.2,65.5,65.5,68.2,67.9,58.4,66.4,68.2,67.5,63.9,62.1,70.2,54.2,70.2,66.2,65.5,60.1,61,62.4,62.4]],['grey',[100,100,100,100,100,100,100,100,100,100,100,100,100,100,100,100,100,100,100,100,100,100,100]]];
const tepeStack=[['light',[.6,.6,.6,.6,.6,.6,.6,.6,.6,.6]],['green',[12.5,15.2,15,14.5,13.9,13.2,11.8,11.4,11.1,9.1]],['grey',[100,100,100,100,100,100,100,100,100,100]]];
const iranNStack=[['light',[.7,.7,.7,.7,.7,.7,.7,.7]],['gold',[.8,1,1,.8,.8,.8,1.8,2]],['purple',[5.5,3.5,2.5,1.5,1,.9,1.8,2]],['pink',[6.3,4,3,1.8,1.2,.9,2.2,5.5]],['grey',[100,100,100,100,100,100,100,100]]];
const iranianStack=[['cyan',[7.5,3,5,5,7.3]],['green',[26.4,23.4,25,23.6,27.4]],['salmon',[29.5,27.4,28.4,27.4,28.5]],['blue',[47.1,48.8,49.2,46.1,47.6]],['grey',[100,100,100,100,100]]];
const turStack=[['light',[.6,.6,.6,.6,.6,.6,.6,.6,.6,.6,.6,.6,.6,.6,.6,.6,.6,.6,.6,.6,.6]],['green',[48.5,49.9,51,51.3,50.5,49.9,49.2,50.8,50.3,52.6,53.7,52.3,51.9,47.8,55.3,53.3,54.6,54.9,50.8,52.6,42.7]],['blue',[97,98.8,99.2,97.4,96.5,95.4,97,96.5,98.4,99.2,98.8,97.4,97,92.4,99.2,97,97,97,92.9,91.3,79.8]],['grey',[100,100,100,100,100,100,100,100,100,100,100,100,100,100,100,100,100,100,100,100,100]]];
const enStack=[['light',[.6,.6,.6,.6,.6,.6,.6,.6,.6,.6]],['green',[42,44.4,45.1,43.5,47.8,47.8,46.5,49.5,47.1,49.6]],['blue',[97.8,99.7,100,96.7,99.7,99.7,99.7,99.5,95,96.7]],['grey',[100,100,100,100,100,100,100,100,100,100]]];
const lnbaStack=[['light',[.6,.6,.6,.6,.6,.6,.6,.6,.6,.8]],['green',[7.3,3.7,6,3,6.4,6.4,2.3,6.8,3.7,1]],['blue',[76.8,69.3,69.3,73.9,68.6,64.8,70.7,64.4,60.8,57.3]],['grey',[100,100,100,100,100,100,100,100,100,100]]];
const lithuanianStack=[['light',[.5,.5,.5,.5,.5]],['salmon',[2.5,2.5,2.5,2.2,2.7]],['blue',[68.8,68.6,68.5,67.8,68.5]],['grey',[100,100,100,100,100]]];
const brahuiStack=[['cyan',[20.9,20.9,22.4,21.3,20.2]],['green',[27.9,28.5,30.2,29.5,27.4]],['salmon',[28.4,30.8,30.8,30.2,28.4]],['blue',[39.7,42.1,41.7,40.4,38.3]],['grey',[100,100,100,100,100]]];
const gujaratiStack=[['cyan',[59,58.7,58.3,57.7,60]],['blue',[62.1,61.4,60.7,60.3,60]],['grey',[100,100,100,100,100]]];
const pulliyarStack=[['cyan',[82.5,83.2,83.2,81.8,82.5]],['green',[84.5,84.5,83.8,83.2,83.2]],['slate',[87.9,88.3,87.2,87.2,88.2]],['grey',[100,100,100,100,100]]];
const ulladanStack=[['cyan',[92.9,93.3,91.6,90.6,88.6]],['grey',[100,100,100,100,100]]];
const sahariyaStack=[['cyan',[73.6,73.4,73,75,74.3]],['slate',[87.9,89.3,87.6,89.9,89]],['blue',[90.6,92.4,89.9,91.3,90.6]],['grey',[100,100,100,100,100]]];
const khariaStack=[['cyan',[75.4,75.7,76,75,74.5]],['slate',[100,100,100,100,100]]];
const atayalStack=[['light',[.4,.4,.4,.4,.4]],['slate',[100,100,100,100,100]]];
const ulchiStack=[['light',[.4,.4,.4,.4,.4]],['slate',[21.3,25.8,27.2,29.2,33.2]],['salmon',[100,100,100,100,100]]];
const chukchiStack=[['light',[.4,.4,.4,.4,.4]],['salmon',[100,100,100,100,100]]];
const kolombangaraStack=[['light',[.4,.4,.4,.4,.4]],['teal',[95.7,96,96,96,83.2]],['pink',[95.9,96,96,96,89.5]],['slate',[100,100,100,100,100]]];
const notsiStack=[['light',[.4,.4,.4,.4,.4]],['teal',[49.5,53.5,53.5,52.6,51.9]],['pink',[100,100,100,100,100]]];
const newGuineaStack=[['light',[.4,.4,.4,.4,.4]],['pink',[100,100,100,100,100]]];
const lowerGroups=[juHoanStack,bantuSAStack,mboStack,kenyaStack,mursiStack,ariStack,tigrawayStack,eastAfricaStack,moroccoStack,isrStack,ppnbStack,chlStack,baStack,tepeStack,iranNStack,iranianStack,turStack,enStack,lnbaStack,lithuanianStack,brahuiStack,gujaratiStack,pulliyarStack,ulladanStack,sahariyaStack,khariaStack,atayalStack,ulchiStack,chukchiStack,kolombangaraStack,notsiStack,newGuineaStack];

/* ---------- RENDERING ---------- */
const NS='http://www.w3.org/2000/svg';
const palette={grey:'#737373',green:'#d4fc79',blue:'#7b7fff',purple:'#951f8d',cyan:'#00aeef',salmon:'#ff7f7a',slate:'#45536b',pink:'#ff2f92',teal:'#009393',gold:'#ffbf00',light:'#55c6ee',black:'#111'};

function mk(tag,parent,name,attrs){
  const el=document.createElementNS(NS,tag);
  for(const k in attrs){el.setAttribute(k,attrs[k]);}
  
  
  parent.appendChild(el);
  return el;
}
function label(parent,name,txt,attrs){
  const t=mk('text',parent,name,attrs);
  t.textContent=txt;
  return t;
}
function regular(n,rot,inner){
  const out=[];
  const m=inner?n*2:n;
  for(let i=0;i<m;i++){
    const r=inner&&i%2?inner:1;
    const a=rot+i*2*Math.PI/m;
    out.push([r*Math.cos(a),r*Math.sin(a)]);
  }
  return out;
}
const unitShapes={
  diamond:[[0,-1],[1,0],[0,1],[-1,0]],
  square:[[-1,-1],[1,-1],[1,1],[-1,1]],
  triUp:[[0,-1.1],[1,.75],[-1,.75]],
  triDown:[[0,1.1],[1,-.75],[-1,-.75]],
  triLeft:[[-1.1,0],[.75,-1],[.75,1]],
  triRight:[[1.1,0],[-.75,-1],[-.75,1]],
  pentagon:regular(5,-Math.PI/2),
  hexagon:regular(6,0),
  star:regular(5,-Math.PI/2,.42),
  cross:[[-.5,-1],[0,-.5],[.5,-1],[1,-.5],[.5,0],[1,.5],[.5,1],[0,.5],[-.5,1],[-1,.5],[-.5,0],[-1,-.5]]
};
function marker(parent,name,st,cx,cy,alpha,scale){
  const r=st.r*(scale||1);
  const common={fill:st.f};
  if(st.st){common.stroke=st.st;common['stroke-width']=st.sw;common['stroke-linejoin']='miter';}
  if(alpha<1){common['fill-opacity']=alpha;}
  if(st.s==='circle'){
    return mk('circle',parent,name,Object.assign({cx:cx.toFixed(1),cy:cy.toFixed(1),r:r.toFixed(2)},common));
  }
  const pts=unitShapes[st.s].map(p=>(cx+p[0]*r).toFixed(1)+','+(cy+p[1]*r).toFixed(1)).join(' ');
  return mk('polygon',parent,name,Object.assign({points:pts},common));
}
/* axis functions */
const xA=v=>896+7.515*v;
const yA=v=>1037-7.84*v;
const xI=v=>972+(v+4.657)*14.28;
const yI=v=>394.6+(30.61-v)*23.9;
const xB=v=>1587.3+321.3*v;

/* Panel A axes */
const axA=document.getElementById('a-axes');
pcXTicks.forEach((v,i)=>{
  mk('line',axA,'x-axis-tick',{x1:xA(v),x2:xA(v),y1:1299.5,y2:1314,stroke:'#333','stroke-width':1.5});
  label(axA,'x-axis-tick-label',pcXLabels[i],{class:'tick','text-anchor':'end',transform:'translate('+(xA(v)+8)+',1327) rotate(-90)'});
});
pcYTicks.forEach((v,i)=>{
  mk('line',axA,'y-axis-tick',{x1:125,x2:138,y1:yA(v),y2:yA(v),stroke:'#555','stroke-width':1.5});
  label(axA,'y-axis-tick-label',pcYLabels[i],{class:'tick','text-anchor':'end',x:113,y:yA(v)+8});
});

/* Panel A legend */
const legG=document.getElementById('a-legend');
legendLabels.forEach((lab,i)=>{
  const y=i<19?51.3+25.4*i:535.5+24.3*(i-19);
  const st=seriesStyle[i];
  marker(legG,'legend-marker',st,166,y,st.a===undefined?1:st.a*1.05,i>=37?.95:(st.s==='circle'?.86:.9));
  label(legG,'legend-entry',lab,{x:189,y:y+6.5,style:'font-size:19px'});
});

/* Panel A points, main view + inset (same data, zoomed axes) */
const ptG=document.getElementById('a-points');
const inG=document.getElementById('a-inset');
legendSeries.forEach((arr,i)=>{
  const st=seriesStyle[i];
  const a=st.a===undefined?1:st.a;
  arr.forEach(p=>{
    marker(ptG,'pca-point',st,xA(p[0]),yA(p[1]),a,1);
  });
});
legendSeries.forEach((arr,i)=>{
  const st=seriesStyle[i];
  const a=st.a===undefined?1:Math.min(1,st.a*1.8);
  const inSt=Object.assign({},st);
  let sc=1.05;
  if(i===37){sc=.85;inSt.st='#3f5a1a';inSt.sw=1.1;}
  else if(i===38){sc=.66;inSt.st='#d08a3a';inSt.sw=1;}
  else if(i===39){sc=.95;inSt.st='#8fae5a';inSt.sw=1;}
  else if(i===23){sc=1.25;inSt.sw=.8;inSt.st='#666';}
  else if(st.s==='circle'||(i>=30&&i<=36)){sc=.84;}
  else if(inSt.st){inSt.sw=.8;inSt.st='#666';}
  arr.forEach(p=>{
    const ix=xI(p[0]),iy=yI(p[1]);
    if(ix<945||ix>1300||iy<190||iy>570){return;}
    marker(inG,'inset-point',inSt,ix,iy,a,sc);
  });
});

/* Panel B grid */
const gridG=document.getElementById('b-grid');
bTicks.forEach((v,i)=>{
  mk('line',gridG,'admixture-gridline',{x1:xB(v),x2:xB(v),y1:57.4,y2:1413,stroke:i===0?'#777':'#cfcfcf','stroke-width':1.8});
  label(gridG,'admixture-tick-label',bTickLabels[i],{style:'font-size:21px',transform:'translate('+(xB(v)+6.5)+',41.5) rotate(-90)'});
});

/* Panel B rows: rows of one letter touch; letters and sites are separated by blank space */
const barG=document.getElementById('b-bars');
const rowH=22.96;
const letterGap=22.85;
const siteGap=45.6;
let rowTop=61.1;
bSamples.forEach((name,i)=>{
  if(i>0){
    rowTop+=rowH;
    if(bSites[i]!==bSites[i-1]){rowTop+=siteGap;}
    else if(bLetters[i]!==bLetters[i-1]){rowTop+=letterGap;}
  }
  let frac=0;
  bComponents[i].forEach(seg=>{
    mk('rect',barG,'admixture-segment-'+seg[0],{x:xB(frac).toFixed(2),y:rowTop.toFixed(2),width:(321.3*seg[1]).toFixed(2),height:rowH,fill:palette[seg[0]],stroke:'#222','stroke-width':.7});
    frac+=seg[1];
  });
  mk('rect',barG,'admixture-row-outline',{x:xB(0),y:rowTop.toFixed(2),width:321.3,height:rowH,fill:'none',stroke:'#111','stroke-width':1.6});
  label(barG,'row-letter',bLetters[i],{x:1615,y:(rowTop+rowH/2+8.4).toFixed(1),'text-anchor':'middle',style:'font-size:23px;font-weight:700;fill:#fff'});
  label(barG,'sample-label',name,{x:1574.5,y:(rowTop+rowH/2+6).toFixed(1),'text-anchor':'end',style:'font-size:22.8px'});
  if(bFamilies[i]){
    label(barG,'family-label',bFamilies[i],{x:1921.5,y:(rowTop+rowH/2+7).toFixed(1),style:'font-size:21px'});
  }
});

/* Panel C stacks */
function column(parent,x,w,top,h,segs){
  let prev=0;
  segs.forEach(seg=>{
    const end=Math.max(prev,seg[1]);
    if(end>prev){
      mk('rect',parent,'stack-segment-'+seg[0],{x:x.toFixed(2),y:(top+prev/100*h).toFixed(2),width:w,height:((end-prev)/100*h+.4).toFixed(2),fill:palette[seg[0]],'shape-rendering':'crispEdges'});
    }
    prev=end;
  });
}
const upG=document.getElementById('c-upper');
const upTop=1692.4,upH=264.1,upCol=8.38;
let upX=144.6;
upperGroups.forEach(group=>{
  const layers=group[0],cy=group[1];
  cy.forEach((c,i)=>{
    const segs=upperKeys.map((k,j)=>[k,layers[j][i]]);
    segs.push(['green',100-c-.6]);
    segs.push(['cyan',100-.6]);
    segs.push(['light',100]);
    column(upG,upX,upCol+.3,upTop,upH,segs);
    upX+=upCol;
  });
  upX+=upCol;
});
soqotraGrey.forEach((g,i)=>{
  const segs=[['grey',g]];
  soqotraAccents[i].forEach(a=>segs.push(a));
  segs.push(['green',100-soqotraCyan[i]-.6]);
  segs.push(['cyan',100-.6]);
  segs.push(['light',100]);
  column(upG,upX,upCol+.3,upTop,upH,segs);
  upX+=upCol;
});

const lowG=document.getElementById('c-lower');
const lowTop=1963,lowH=253.5,lowCol=6.41;
const lowerGapCols=[2,2,2];
let lowX=145.3;
lowerGroups.forEach((stack,gi)=>{
  const n=stack[0][1].length;
  for(let i=0;i<n;i++){
    column(lowG,lowX,lowCol+.3,lowTop,lowH,stack.map(l=>[l[0],l[1][i]]));
    lowX+=lowCol;
  }
  lowX+=lowCol*(lowerGapCols[gi]||1);
});
</script>
</body>
</html>
